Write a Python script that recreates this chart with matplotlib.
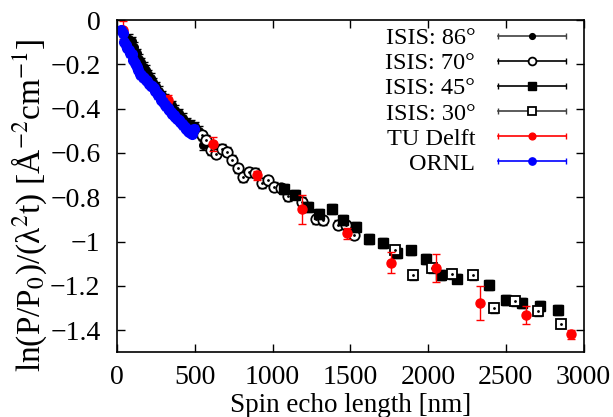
import matplotlib
matplotlib.use("Agg")
import matplotlib.pyplot as plt
from matplotlib.lines import Line2D
from matplotlib.legend_handler import HandlerBase

plt.rcParams['font.family'] = ['Liberation Serif', 'DejaVu Serif']
plt.rcParams['mathtext.fontset'] = 'stix'

# ---- data ----
isis86_x = [78, 95, 110, 125, 140, 155, 170, 185, 200, 215, 230, 250, 270, 290, 310,
            330, 350, 375, 400, 425, 450, 475, 500, 525, 550]
isis86_y = [-0.085, -0.095, -0.12, -0.15, -0.175, -0.19, -0.21, -0.225, -0.245, -0.26,
            -0.28, -0.30, -0.32, -0.34, -0.355, -0.37, -0.385, -0.405, -0.42, -0.44,
            -0.46, -0.47, -0.48, -0.50, -0.565]
isis86_e = [0.02] * len(isis86_x)

isis70_x = [547, 573, 605, 637, 676, 708, 741, 779, 811, 850, 888, 933, 972, 1011, 1056,
            1101, 1191, 1281, 1326, 1423, 1474, 1526]
isis70_y = [-0.52, -0.54, -0.588, -0.603, -0.58, -0.594, -0.63, -0.67, -0.71, -0.686,
            -0.69, -0.737, -0.724, -0.753, -0.758, -0.795, -0.82, -0.90, -0.903, -0.923,
            -0.925, -0.97]
isis70_e = [0.02] * len(isis70_x)

isis45_x = [1075, 1146, 1230, 1300, 1381, 1455, 1539, 1622, 1712, 1803, 1893, 1989, 2086,
            2189, 2395, 2498, 2607, 2717, 2833]
isis45_y = [-0.764, -0.788, -0.845, -0.875, -0.853, -0.902, -0.935, -0.99, -1.008, -1.05,
            -1.04, -1.08, -1.15, -1.167, -1.195, -1.263, -1.277, -1.29, -1.31]
isis45_e = [0.022] * len(isis45_x)

isis30_x = [1790, 1906, 2028, 2157, 2292, 2421, 2562, 2704, 2852]
isis30_y = [-1.036, -1.15, -1.118, -1.145, -1.15, -1.30, -1.268, -1.315, -1.37]
isis30_e = [0.022] * len(isis30_x)

delft_x = [40, 330, 618, 903, 1191, 1480, 1764, 2054, 2337, 2627, 2916]
delft_y = [-0.045, -0.36, -0.56, -0.70, -0.855, -0.963, -1.095, -1.118, -1.277, -1.33, -1.418]
delft_e = [0.04, 0.02, 0.03, 0.02, 0.065, 0.025, 0.047, 0.064, 0.075, 0.04, 0.02]

ornl_x = [25, 35, 45, 55, 65, 75, 85, 95, 105, 115, 125, 135, 145, 155, 165, 175, 185, 195,
          205, 215, 225, 235, 245, 255, 265, 275, 285, 295, 305, 315, 325, 335, 345, 355,
          365, 375, 385, 395, 405, 415, 425, 435, 445, 455, 465, 475, 485, 495]
ornl_y = [-0.045, -0.06, -0.10, -0.115, -0.125, -0.135, -0.15, -0.155, -0.18, -0.195,
          -0.21, -0.225, -0.245, -0.25, -0.258, -0.262, -0.27, -0.275, -0.288, -0.297,
          -0.30, -0.308, -0.32, -0.33, -0.34, -0.345, -0.36, -0.368, -0.382, -0.39,
          -0.398, -0.405, -0.415, -0.423, -0.43, -0.438, -0.445, -0.452, -0.46, -0.468,
          -0.475, -0.485, -0.49, -0.50, -0.505, -0.51, -0.515, -0.49]
ornl_e = [0.015] * len(ornl_x)

labels = ['ISIS: 86°', 'ISIS: 70°', 'ISIS: 45°', 'ISIS: 30°', 'TU Delft', 'ORNL']
x_ticks = [0, 500, 1000, 1500, 2000, 2500, 3000]
y_ticks = [0, -0.2, -0.4, -0.6, -0.8, -1.0, -1.2, -1.4]

series = [
    (isis86_x, isis86_y, isis86_e, dict(marker='o', ms=5.5, mfc='black', mec='black'), 'black', '#404040'),
    (isis70_x, isis70_y, isis70_e, dict(marker='o', ms=7.5, mfc='white', mec='black', mew=1.3), 'black', 'black'),
    (isis45_x, isis45_y, isis45_e, dict(marker='s', ms=7.5, mfc='black', mec='black'), 'black', 'black'),
    (isis30_x, isis30_y, isis30_e, dict(marker='s', ms=7.5, mfc='white', mec='black', mew=1.3), 'black', '#404040'),
    (delft_x, delft_y, delft_e, dict(marker='o', ms=6.5, mfc='red', mec='red'), 'red', 'red'),
    (ornl_x, ornl_y, ornl_e, dict(marker='o', ms=7, mfc='blue', mec='blue'), 'blue', 'blue'),
]

fig = plt.figure(figsize=(6.13, 4.17), dpi=100)
ax = fig.add_axes([0.191, 0.155, 0.761, 0.797])

for (x, y, e, mk, ecol, lcol) in series:
    ax.errorbar(x, y, yerr=e, fmt='none', ecolor=ecol, elinewidth=1.0, capsize=3, capthick=1.0)
    ax.plot(x, y, ls='none', **mk)
    if mk['mfc'] == 'white':
        ax.plot(x, y, ls='none', marker='.', ms=2, color='black')


class HandlerGP(HandlerBase):
    def create_artists(self, legend, orig_handle, xdescent, ydescent, width, height,
                       fontsize, trans):
        color, mk = orig_handle
        yc = height / 2 - ydescent
        x0, x1 = -xdescent, width - xdescent
        line = Line2D([x0, x1], [yc, yc], color=color, lw=1.2, transform=trans)
        caps = Line2D([x0, x1], [yc, yc], ls='none', marker='|', ms=5, mew=1.0,
                      color=color, transform=trans)
        m = dict(mk)
        m['ms'] = m['ms'] * 0.75
        pt = Line2D([(x0 + x1) / 2], [yc], ls='none', transform=trans, **m)
        return [line, caps, pt]


class GPHandle:
    def __init__(self, color, mk):
        self.color = color
        self.mk = mk

    def __iter__(self):
        return iter((self.color, self.mk))


handles = [GPHandle(s[5], s[3]) for s in series]
leg = ax.legend(handles, labels, handler_map={GPHandle: HandlerGP()}, loc='upper right',
                bbox_to_anchor=(0.984, 1.008), markerfirst=False, frameon=False, fontsize=17.5,
                handlelength=2.8, handletextpad=0.95, labelspacing=0.13, borderaxespad=0.0)

ax.set_xlim(0, 3000)
ax.set_ylim(-1.5, 0)
ax.set_xticks(x_ticks)
ax.set_yticks(y_ticks)
ax.set_xticklabels([str(t) for t in x_ticks])
ax.set_yticklabels(['0', '\u22120.2', '\u22120.4', '\u22120.6', '\u22120.8', '\u22121',
                    '\u22121.2', '\u22121.4'])
ax.tick_params(direction='in', length=6, width=1, top=True, right=True, labelsize=20)
ax.tick_params(axis='x', pad=9)
ax.tick_params(axis='y', pad=12)
for sp in ax.spines.values():
    sp.set_linewidth(1.2)

ax.set_xlabel('Spin echo length [nm]', fontsize=19.5, labelpad=2)
ax.set_ylabel('ln(P/P$_0$)/(λ$^2$t) [Å$^{-2}$cm$^{-1}$]', fontsize=24)
ax.yaxis.set_label_coords(-0.146, 0.443)

fig.savefig('out.png', dpi=100)
